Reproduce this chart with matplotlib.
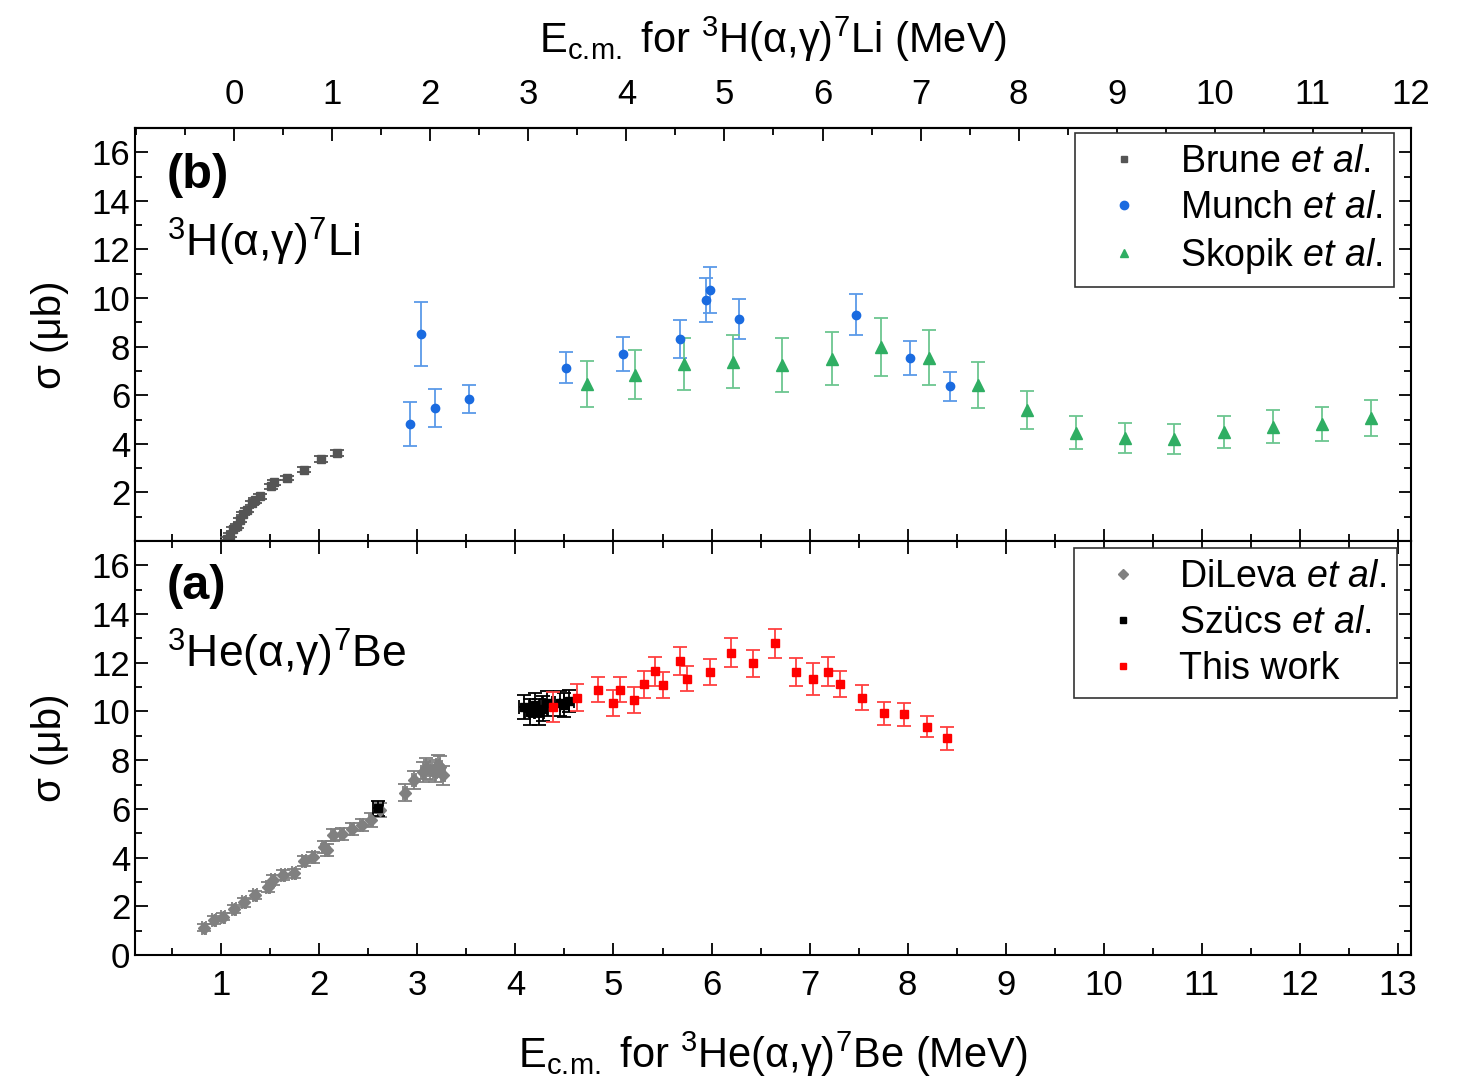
import matplotlib
matplotlib.use("Agg")
import matplotlib.pyplot as plt
from matplotlib.ticker import MultipleLocator
from matplotlib.lines import Line2D
import numpy as np

plt.rcParams['font.family'] = ['Liberation Sans', 'DejaVu Sans']
plt.rcParams['mathtext.fontset'] = 'custom'
plt.rcParams['mathtext.rm'] = 'Liberation Sans'
plt.rcParams['mathtext.it'] = 'Liberation Sans:italic'
plt.rcParams['mathtext.bf'] = 'Liberation Sans:bold'

# shift between the two energy scales (3He+a scale minus 3H+a scale)
offset = 1.132

# ---- 3H(a,g)7Li data, energies on the top scale (MeV), sigma in microbarn
brune_e = [-0.07, -0.04, -0.01, 0.03, 0.06, 0.09, 0.13, 0.18, 0.21, 0.26,
           0.37, 0.41, 0.54, 0.71, 0.88, 1.05]
brune_s = [0.10, 0.23, 0.51, 0.60, 0.85, 1.13, 1.29, 1.56, 1.67, 1.84,
           2.25, 2.42, 2.59, 2.93, 3.38, 3.63]
brune_err = [0.08, 0.08, 0.08, 0.08, 0.08, 0.08, 0.08, 0.1, 0.1, 0.1,
             0.1, 0.1, 0.1, 0.1, 0.12, 0.12]

munch_e = [1.79, 1.90, 2.05, 2.39, 3.38, 3.97, 4.55, 4.81, 4.85, 5.15,
           6.34, 6.89, 7.30]
munch_s = [4.82, 8.51, 5.48, 5.85, 7.14, 7.69, 8.31, 9.91, 10.33, 9.13,
           9.32, 7.55, 6.36]
munch_err = [0.92, 1.32, 0.77, 0.57, 0.65, 0.70, 0.78, 0.90, 0.96, 0.83,
             0.86, 0.70, 0.60]

skopik_e = [3.60, 4.09, 4.59, 5.09, 5.59, 6.10, 6.60, 7.09, 7.59, 8.09,
            8.59, 9.09, 9.59, 10.09, 10.59, 11.09, 11.59]
skopik_s = [6.46, 6.84, 7.28, 7.38, 7.24, 7.51, 7.99, 7.55, 6.42, 5.38,
            4.46, 4.23, 4.20, 4.48, 4.71, 4.82, 5.07]
skopik_err = [0.96, 1.01, 1.07, 1.09, 1.10, 1.11, 1.19, 1.14, 0.94, 0.78,
              0.68, 0.62, 0.62, 0.66, 0.69, 0.70, 0.75]

# ---- 3He(a,g)7Be data, energies on the bottom scale (MeV)
dileva_e = [0.82, 0.93, 1.02, 1.13, 1.23, 1.34, 1.48, 1.53, 1.63, 1.74,
            1.84, 1.94, 2.05, 2.08, 2.14, 2.23, 2.33, 2.43, 2.53, 2.62,
            2.87, 2.97, 3.06, 3.09, 3.13, 3.18, 3.21, 3.23, 3.26]
dileva_s = [1.12, 1.44, 1.57, 1.89, 2.16, 2.46, 2.80, 3.08, 3.28, 3.35,
            3.86, 4.01, 4.44, 4.30, 4.92, 4.96, 5.16, 5.33, 5.54, 5.95,
            6.67, 7.18, 7.52, 7.66, 7.60, 7.52, 7.80, 7.73, 7.38]
dileva_err = [0.15, 0.15, 0.15, 0.15, 0.18, 0.18, 0.2, 0.2, 0.2, 0.2,
              0.22, 0.22, 0.25, 0.25, 0.25, 0.25, 0.25, 0.25, 0.28, 0.3,
              0.35, 0.38, 0.4, 0.42, 0.4, 0.4, 0.42, 0.42, 0.4]

szucs_e = [2.60, 4.09, 4.15, 4.20, 4.24, 4.28, 4.32, 4.45, 4.50, 4.55]
szucs_s = [6.02, 10.19, 9.98, 10.26, 9.98, 10.12, 10.33, 10.33, 10.26, 10.43]
szucs_err = [0.3, 0.5, 0.55, 0.5, 0.55, 0.5, 0.5, 0.5, 0.5, 0.45]

work_e = [4.38, 4.63, 4.84, 4.99, 5.07, 5.21, 5.31, 5.42, 5.51, 5.68,
          5.75, 5.98, 6.20, 6.42, 6.65, 6.86, 7.03, 7.19, 7.31, 7.53,
          7.76, 7.96, 8.20, 8.40]
work_s = [10.19, 10.56, 10.90, 10.35, 10.90, 10.46, 11.11, 11.65, 11.08, 12.07,
          11.35, 11.62, 12.42, 11.97, 12.79, 11.62, 11.32, 11.64, 11.12, 10.57,
          9.92, 9.88, 9.37, 8.89]
work_err = [0.62, 0.55, 0.52, 0.55, 0.52, 0.53, 0.55, 0.60, 0.53, 0.58,
            0.51, 0.55, 0.58, 0.55, 0.60, 0.56, 0.65, 0.60, 0.53, 0.50,
            0.48, 0.46, 0.43, 0.49]

fig = plt.figure(figsize=(14.63, 10.83), dpi=100)
ax_b = fig.add_axes([0.0923, 0.5005, 0.8722, 0.3813])
ax_a = fig.add_axes([0.0923, 0.1182, 0.8722, 0.3823], sharex=ax_b)

ebkw = dict(linestyle='none', elinewidth=1.3, capthick=1.3, capsize=5)

ax_b.errorbar(np.array(brune_e) + offset, brune_s, yerr=brune_err, fmt='s',
              color='#555555', ms=5.5, **ebkw)
ax_b.errorbar(np.array(munch_e) + offset, munch_s, yerr=munch_err, fmt='o',
              color='#1a6be0', ecolor='#5a9ae8', ms=6, **ebkw)
ax_b.errorbar(np.array(skopik_e) + offset, skopik_s, yerr=skopik_err, fmt='^',
              color='#2fae63', ecolor='#6cc690', ms=8, **ebkw)

ax_a.errorbar(dileva_e, dileva_s, yerr=dileva_err, xerr=0.02, fmt='D',
              color='#808080', ms=6, **ebkw)
ax_a.errorbar(szucs_e, szucs_s, yerr=szucs_err, xerr=0.05, fmt='s',
              color='black', ms=6, **ebkw)
ax_a.errorbar(work_e, work_s, yerr=work_err, fmt='s',
              color='#ff0000', ecolor='#ff4040', ms=6, **ebkw)

for ax in (ax_a, ax_b):
    ax.set_xlim(0.12, 13.135)
    ax.set_ylim(0, 17)
    ax.xaxis.set_major_locator(MultipleLocator(1))
    ax.xaxis.set_minor_locator(MultipleLocator(0.5))
    ax.yaxis.set_major_locator(MultipleLocator(2))
    ax.yaxis.set_minor_locator(MultipleLocator(1))
    ax.tick_params(which='both', direction='in', right=True, width=1.3, labelsize=25)
    ax.tick_params(which='major', length=9)
    ax.tick_params(which='minor', length=5)
    for sp in ax.spines.values():
        sp.set_linewidth(1.5)
    ax.set_ylabel('σ (μb)', fontsize=29, labelpad=16)

ax_a.tick_params(which='both', top=True)
ax_b.tick_params(which='both', top=False, labelbottom=False)
ax_b.set_yticks([2, 4, 6, 8, 10, 12, 14, 16])
ax_a.set_yticks([0, 2, 4, 6, 8, 10, 12, 14, 16])

sec = ax_b.secondary_xaxis('top', functions=(lambda x: x - offset, lambda x: x + offset))
sec.set_xticks(range(0, 13))
sec.xaxis.set_minor_locator(MultipleLocator(0.5))
sec.tick_params(which='both', direction='in', width=1.3, labelsize=25, pad=12)
sec.tick_params(which='major', length=9)
sec.tick_params(which='minor', length=5)
sec.spines['top'].set_linewidth(1.5)
sec.set_xlabel(r'E$_{\mathrm{c.\!m.}}$ for $^{3}$H(α,γ)$^{7}$Li (MeV)',
               fontsize=30, labelpad=18)

ax_a.tick_params(axis='x', pad=10)
ax_a.set_xlabel(r'E$_{\mathrm{c.\!m.}}$ for $^{3}$He(α,γ)$^{7}$Be (MeV)',
                fontsize=30, labelpad=20)

ax_b.text(0.025, 0.885, '(b)', transform=ax_b.transAxes, fontsize=35, fontweight='bold',
          va='center')
ax_b.text(0.025, 0.725, r'$^{3}$H(α,γ)$^{7}$Li', transform=ax_b.transAxes,
          fontsize=32, va='center')
ax_a.text(0.025, 0.89, '(a)', transform=ax_a.transAxes, fontsize=35, fontweight='bold',
          va='center')
ax_a.text(0.025, 0.73, r'$^{3}$He(α,γ)$^{7}$Be', transform=ax_a.transAxes,
          fontsize=32, va='center')

legkw = dict(fontsize=27, frameon=True, fancybox=False, edgecolor='#333333',
             framealpha=1, handlelength=2.0, handletextpad=0.5, labelspacing=0.26,
             borderpad=0.3, borderaxespad=0, loc='upper right')

hb = [Line2D([], [], ls='none', marker='s', color='#555555', ms=5),
      Line2D([], [], ls='none', marker='o', color='#1a6be0', ms=6),
      Line2D([], [], ls='none', marker='^', color='#2fae63', ms=6)]
lb = ax_b.legend(hb, [r'Brune $\mathit{et\ al.}$', r'Munch $\mathit{et\ al.}$',
                      r'Skopik $\mathit{et\ al.}$'],
                 bbox_to_anchor=(0.987, 0.988), **legkw)
ha = [Line2D([], [], ls='none', marker='D', color='#808080', ms=5),
      Line2D([], [], ls='none', marker='s', color='black', ms=5),
      Line2D([], [], ls='none', marker='s', color='#ff0000', ms=5)]
la = ax_a.legend(ha, [r'DiLeva $\mathit{et\ al.}$', r'Szücs $\mathit{et\ al.}$', 'This work'],
                 bbox_to_anchor=(0.989, 0.983), **legkw)
for lg in (la, lb):
    lg.get_frame().set_linewidth(1.2)

fig.savefig('out.png', dpi=100)
